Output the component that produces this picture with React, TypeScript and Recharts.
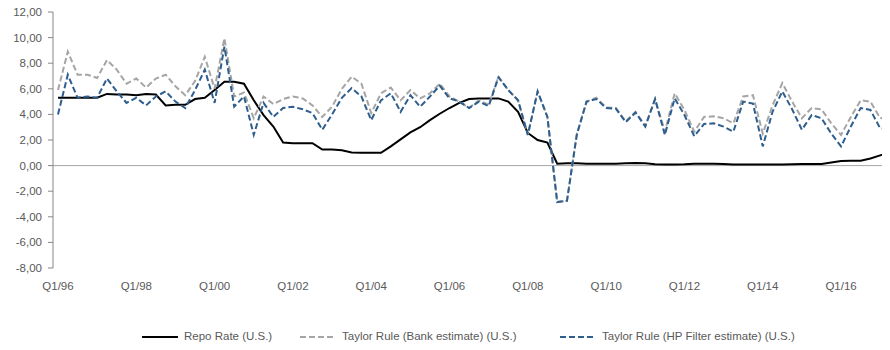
import React from 'react';
import { LineChart, Line, XAxis, YAxis, ReferenceLine, Legend } from 'recharts';

// Quarter labels Q1/96 .. Q2/17
const quarters: string[] = [];
for (let y = 1996; y <= 2017; y++) {
    for (let q = 1; q <= 4; q++) {
        if (y === 2017 && q > 2) break;
        quarters.push(`Q${q}/${String(y).slice(2)}`);
    }
}

const repoRate = [
    5.3, 5.3, 5.3, 5.3, 5.3, 5.6, 5.55, 5.55, 5.5, 5.6, 5.55, 4.7,
    4.75, 4.75, 5.2, 5.3, 5.9, 6.55, 6.55, 6.4, 5.1, 3.95, 3.05, 1.8,
    1.75, 1.75, 1.75, 1.25, 1.25, 1.2, 1.02, 1.0, 1.0, 1.0, 1.5, 2.05,
    2.6, 3.0, 3.55, 4.05, 4.5, 4.9, 5.2, 5.25, 5.25, 5.25, 5.0, 4.2,
    2.55, 2.0, 1.8, 0.15, 0.18, 0.18, 0.15, 0.14, 0.14, 0.15, 0.18, 0.2,
    0.18, 0.1, 0.08, 0.08, 0.1, 0.14, 0.15, 0.15, 0.13, 0.09, 0.09, 0.08,
    0.08, 0.09, 0.09, 0.1, 0.12, 0.13, 0.13, 0.24, 0.36, 0.37, 0.38, 0.55,
    0.8, 1.05,
];

const taylorBank = [
    5.9, 8.9, 7.1, 7.1, 6.85, 8.25, 7.5, 6.4, 6.8, 6.1, 6.8, 7.1,
    6.2, 5.5, 6.6, 8.5, 6.0, 9.95, 5.4, 5.7, 3.7, 5.4, 4.8, 5.2,
    5.4, 5.25, 4.7, 3.8, 4.6, 6.0, 6.95, 6.4, 4.1, 5.65, 6.1, 5.1,
    5.9, 5.25, 5.65, 6.4, 5.4, 5.0, 4.5, 5.1, 4.75, 6.95, 5.9, 5.1,
    2.4, 5.8, 3.8, -2.85, -2.75, 2.45, 5.0, 5.3, 4.55, 4.5, 3.45, 4.2,
    3.1, 5.2, 2.65, 5.65, 4.35, 2.65, 3.8, 3.85, 3.7, 3.3, 5.4, 5.5,
    2.5, 4.7, 6.45, 5.0, 3.7, 4.5, 4.4, 3.3, 2.4, 3.8, 5.1, 5.0,
    3.7, 3.8,
];

const taylorHP = [
    4.0, 7.1, 5.3, 5.4, 5.3, 6.8, 5.8, 4.9, 5.3, 4.7, 5.4, 5.8,
    5.0, 4.5, 5.9, 7.5, 4.9, 9.3, 4.6, 5.4, 2.4, 4.9, 3.8, 4.5,
    4.6, 4.4, 4.1, 2.8, 4.0, 5.3, 6.05, 5.4, 3.55, 5.1, 5.65, 4.2,
    5.5, 4.6, 5.4, 6.25, 5.25, 5.0, 4.5, 5.0, 4.65, 6.9, 5.9, 5.1,
    2.4, 5.8, 3.8, -2.85, -2.75, 2.4, 5.0, 5.2, 4.5, 4.45, 3.4, 4.15,
    3.05, 5.2, 2.4, 5.25, 3.95, 2.3, 3.25, 3.3, 3.05, 2.65, 5.0, 4.85,
    1.5, 4.2, 5.8, 4.4, 2.8, 3.95, 3.7, 2.5, 1.5, 3.05, 4.5, 4.35,
    2.9, 2.9,
];

const yTicks = [-8, -6, -4, -2, 0, 2, 4, 6, 8, 10, 12];

const data = quarters.map((q, i) => ({
    q,
    repo: repoRate[i],
    bank: taylorBank[i],
    hp: taylorHP[i],
}));

const FONT = "'Liberation Sans', Arial, sans-serif";
const TEXT = '#595959';

const SERIES = [
    { key: 'repo', name: 'Repo Rate (U.S.)', color: '#000000', dash: undefined, left: 134 },
    { key: 'bank', name: 'Taylor Rule (Bank estimate) (U.S.)', color: '#A5A5A5', dash: '6 3', left: 292 },
    { key: 'hp', name: 'Taylor Rule (HP Filter estimate) (U.S.)', color: '#2E5E8E', dash: '6 3', left: 552 },
];

const formatTick = (v: number) => v.toFixed(2).replace('.', ',');

const ChartLegend = () => (
    <div style={{ position: 'relative', height: 42 }}>
        {SERIES.map((s) => (
            <div
                key={s.key}
                style={{ position: 'absolute', left: s.left, top: 22, display: 'flex', alignItems: 'center', whiteSpace: 'nowrap' }}
            >
                <svg width={36} height={6}>
                    <line x1={0} y1={3} x2={36} y2={3} stroke={s.color} strokeWidth={2} strokeDasharray={s.dash} />
                </svg>
                <span style={{ marginLeft: 6, fontSize: 11.5, color: TEXT, fontFamily: FONT, lineHeight: '13px' }}>
                    {s.name}
                </span>
            </div>
        ))}
    </div>
);

const App: React.FC = () => {
    return (
        <div style={{ width: 882, height: 350, marginTop: -8, overflow: 'hidden', fontFamily: FONT }}>
            <LineChart width={887} height={350} data={data} margin={{ top: 12, right: 0, bottom: 0, left: 0 }}>
                <XAxis
                    dataKey="q"
                    interval={7}
                    axisLine={false}
                    tickLine={false}
                    tickSize={0}
                    tickMargin={14}
                    height={40}
                    padding={{ left: 5, right: 5 }}
                    tick={{ fontSize: 11.5, fill: TEXT, fontFamily: FONT }}
                />
                <YAxis
                    domain={[-8, 12]}
                    ticks={yTicks}
                    interval={0}
                    width={45}
                    tickFormatter={formatTick}
                    axisLine={{ stroke: '#868686' }}
                    tickLine={{ stroke: '#868686' }}
                    tickSize={5}
                    tickMargin={6}
                    tick={{ fontSize: 11.5, fill: TEXT, fontFamily: FONT }}
                />
                <ReferenceLine y={0} stroke="#A6A6A6" strokeWidth={1} />
                {SERIES.map((s) => (
                    <Line
                        key={s.key}
                        type="linear"
                        dataKey={s.key}
                        name={s.name}
                        stroke={s.color}
                        strokeWidth={2}
                        strokeDasharray={s.dash}
                        dot={false}
                        activeDot={false}
                        isAnimationActive={false}
                    />
                ))}
                <Legend verticalAlign="bottom" height={42} content={<ChartLegend />} />
            </LineChart>
        </div>
    );
};

export default App;
